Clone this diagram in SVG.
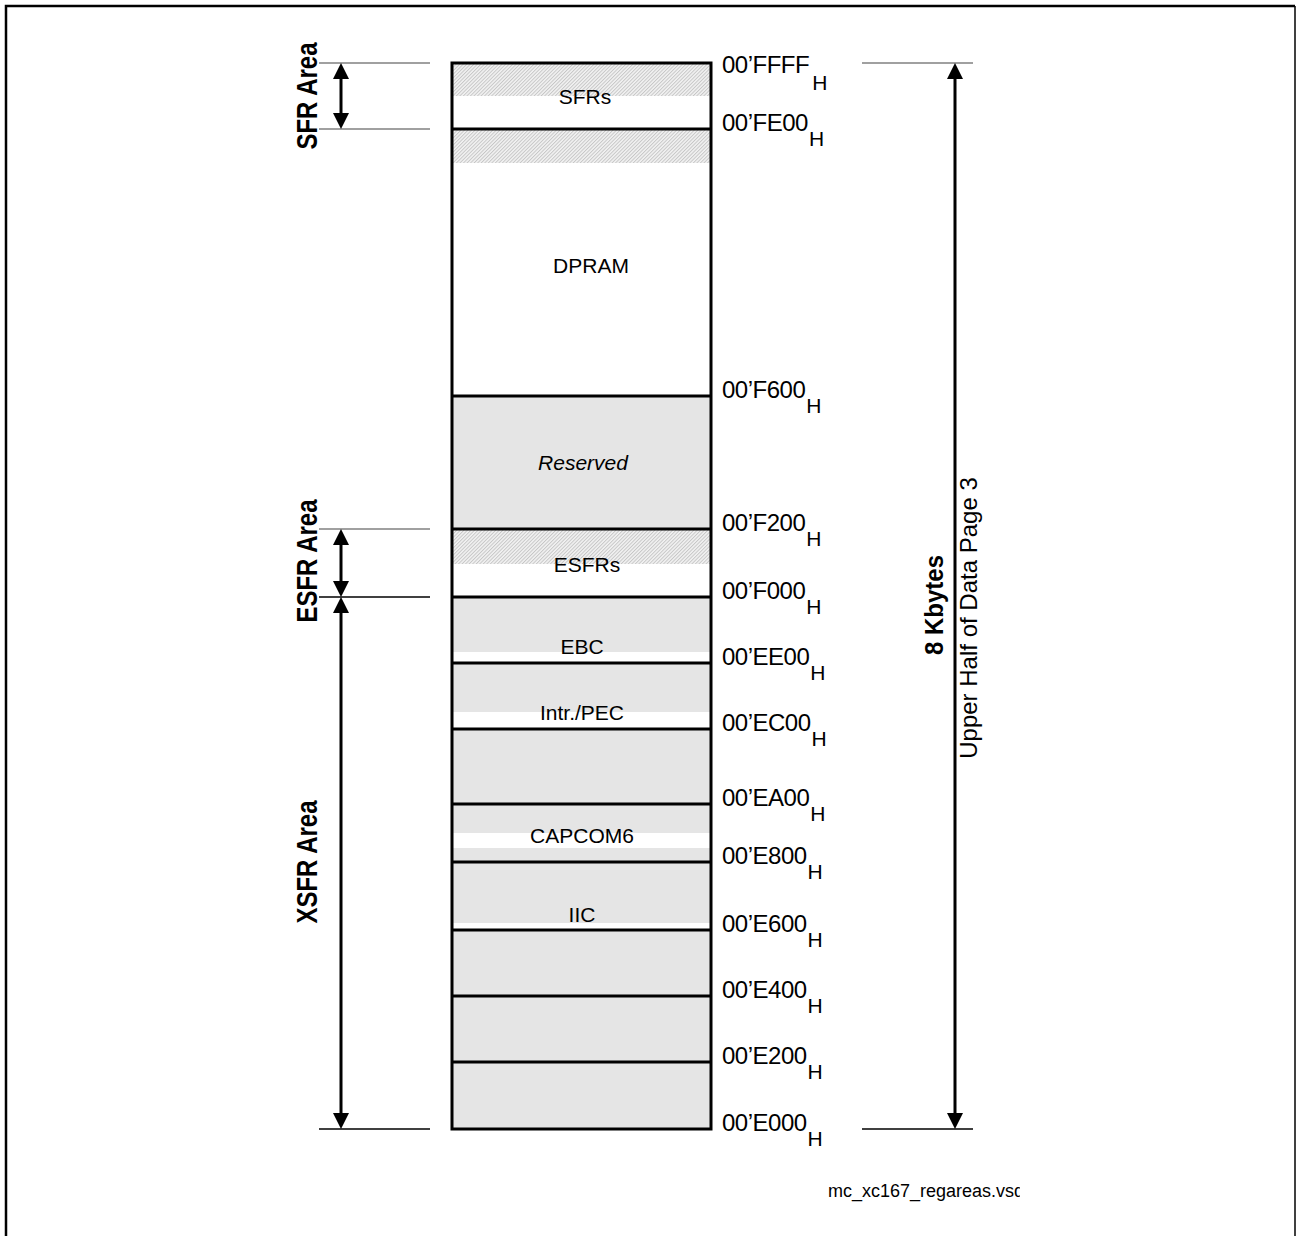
<svg xmlns="http://www.w3.org/2000/svg" width="1296" height="1236" viewBox="0 0 1296 1236">
<style>
.lbl{font-family:"Liberation Sans",Arial,sans-serif;font-size:21px;fill:#000;text-anchor:middle}
.addr{font-family:"Liberation Sans",Arial,sans-serif;font-size:24px;fill:#000;letter-spacing:-0.5px}
.sub{font-size:21px}
.area{font-family:"Liberation Sans",Arial,sans-serif;font-size:24px;font-weight:bold;fill:#000;text-anchor:middle}
.reg{font-family:"Liberation Sans",Arial,sans-serif;font-size:24px;fill:#000;text-anchor:middle}
.gray{fill:#e5e5e5}
.white{fill:#ffffff}
.hatch{fill:url(#hatch)}
.div{stroke:#000;stroke-width:3;fill:none}
.ext{stroke:#808080;stroke-width:1.5}
.extb{stroke:#000;stroke-width:1.5}
.arr{stroke:#000;stroke-width:3;fill:none;marker-start:url(#ah);marker-end:url(#ah)}
</style>
<defs>
<pattern id="hatch" width="2.5" height="2.5" patternUnits="userSpaceOnUse" patternTransform="rotate(45)">
<rect width="2.5" height="2.5" fill="#f2f2f2"/>
<line x1="0.5" y1="0" x2="0.5" y2="2.5" stroke="#c4c4c4" stroke-width="0.9"/>
</pattern>
<marker id="ah" markerUnits="userSpaceOnUse" markerWidth="16" markerHeight="16" viewBox="0 0 16 16" refX="6" refY="8" orient="auto-start-reverse">
<path d="M0,0 L16,8 L0,16 z" fill="#000"/>
</marker>
<clipPath id="fclip"><rect x="800" y="1160" width="220" height="60"/></clipPath>
</defs>
<rect width="1296" height="1236" fill="#fff"/>
<g id="frame" fill="none" stroke="#000">
<path d="M6,1236 L6,6 L1295,6" stroke-width="2.5"/>
<path d="M1295,6 L1295,1236" stroke-width="1.5"/>
</g>
<g id="node-sfrs">
<rect x="452" y="63" width="259" height="33" class="hatch"/>
<rect x="452" y="96" width="259" height="33" class="white"/>
<text class="lbl" x="585" y="104">SFRs</text>
</g>
<g id="node-dpram">
<rect x="452" y="129" width="259" height="34" class="hatch"/>
<rect x="452" y="163" width="259" height="233" class="white"/>
<text class="lbl" x="591" y="273">DPRAM</text>
</g>
<g id="node-reserved">
<rect x="452" y="396" width="259" height="133" class="gray"/>
<text class="lbl" x="583" y="470" font-style="italic">Reserved</text>
</g>
<g id="node-esfrs">
<rect x="452" y="529" width="259" height="35" class="hatch"/>
<rect x="452" y="564" width="259" height="33" class="white"/>
<text class="lbl" x="587" y="572">ESFRs</text>
</g>
<g id="node-ebc">
<rect x="452" y="597" width="259" height="55" class="gray"/>
<rect x="452" y="652" width="259" height="11" class="white"/>
<text class="lbl" x="582" y="654">EBC</text>
</g>
<g id="node-intr">
<rect x="452" y="663" width="259" height="49" class="gray"/>
<rect x="452" y="712" width="259" height="17" class="white"/>
<text class="lbl" x="582" y="720">Intr./PEC</text>
</g>
<g id="node-ea00">
<rect x="452" y="729" width="259" height="75" class="gray"/>
</g>
<g id="node-capcom6">
<rect x="452" y="804" width="259" height="29" class="gray"/>
<rect x="452" y="833" width="259" height="15" class="white"/>
<rect x="452" y="848" width="259" height="14" class="gray"/>
<text class="lbl" x="582" y="843">CAPCOM6</text>
</g>
<g id="node-iic">
<rect x="452" y="862" width="259" height="61" class="gray"/>
<rect x="452" y="923" width="259" height="7" class="white"/>
<text class="lbl" x="582" y="922">IIC</text>
</g>
<g id="node-e400">
<rect x="452" y="930" width="259" height="66" class="gray"/>
</g>
<g id="node-e200">
<rect x="452" y="996" width="259" height="66" class="gray"/>
</g>
<g id="node-e000">
<rect x="452" y="1062" width="259" height="67" class="gray"/>
</g>
<g id="memory-outline">
<rect x="452" y="63" width="259" height="1066" class="div"/>
<path class="div" d="M452,129H711M452,396H711M452,529H711M452,597H711M452,663H711M452,729H711M452,804H711M452,862H711M452,930H711M452,996H711M452,1062H711"/>
</g>
<g id="addresses">
<text class="addr" x="722" y="73">00’FFFF<tspan class="sub" dx="3" dy="17">H</tspan></text>
<text class="addr" x="722" y="131">00’FE00<tspan class="sub" dx="1" dy="15">H</tspan></text>
<text class="addr" x="722" y="398">00’F600<tspan class="sub" dx="1" dy="15">H</tspan></text>
<text class="addr" x="722" y="531">00’F200<tspan class="sub" dx="1" dy="15">H</tspan></text>
<text class="addr" x="722" y="599">00’F000<tspan class="sub" dx="1" dy="15">H</tspan></text>
<text class="addr" x="722" y="665">00’EE00<tspan class="sub" dx="1" dy="15">H</tspan></text>
<text class="addr" x="722" y="731">00’EC00<tspan class="sub" dx="1" dy="15">H</tspan></text>
<text class="addr" x="722" y="806">00’EA00<tspan class="sub" dx="1" dy="15">H</tspan></text>
<text class="addr" x="722" y="864">00’E800<tspan class="sub" dx="1" dy="15">H</tspan></text>
<text class="addr" x="722" y="932">00’E600<tspan class="sub" dx="1" dy="15">H</tspan></text>
<text class="addr" x="722" y="998">00’E400<tspan class="sub" dx="1" dy="15">H</tspan></text>
<text class="addr" x="722" y="1064">00’E200<tspan class="sub" dx="1" dy="15">H</tspan></text>
<text class="addr" x="722" y="1131">00’E000<tspan class="sub" dx="1" dy="15">H</tspan></text>
</g>
<g id="connectors">
<line class="ext" x1="319" y1="63" x2="430" y2="63"/>
<line class="ext" x1="319" y1="129" x2="430" y2="129"/>
<line class="ext" x1="319" y1="529" x2="430" y2="529"/>
<line class="extb" x1="319" y1="597" x2="430" y2="597"/>
<line class="extb" x1="319" y1="1129" x2="430" y2="1129"/>
<line class="ext" x1="862" y1="63" x2="973" y2="63"/>
<line class="extb" x1="862" y1="1129" x2="973" y2="1129"/>
<line class="arr" x1="341" y1="73" x2="341" y2="119"/>
<line class="arr" x1="341" y1="539" x2="341" y2="587"/>
<line class="arr" x1="341" y1="607" x2="341" y2="1119"/>
<line class="arr" x1="955" y1="73" x2="955" y2="1119"/>
</g>
<g id="area-labels">
<text class="area" transform="translate(317,96) rotate(-90) scale(1,1.2)">SFR Area</text>
<text class="area" transform="translate(317,561) rotate(-90) scale(1,1.2)">ESFR Area</text>
<text class="area" transform="translate(317,862) rotate(-90) scale(1,1.2)">XSFR Area</text>
<text class="area" transform="translate(943,605) rotate(-90) scale(1,1.1)">8 Kbytes</text>
<text class="reg" transform="translate(977,618) rotate(-90)">Upper Half of Data Page 3</text>
</g>
<g id="footer" clip-path="url(#fclip)">
<text x="828" y="1197" font-family="Liberation Sans, Arial, sans-serif" font-size="18">mc_xc167_regareas.vsd</text>
</g>
</svg>
